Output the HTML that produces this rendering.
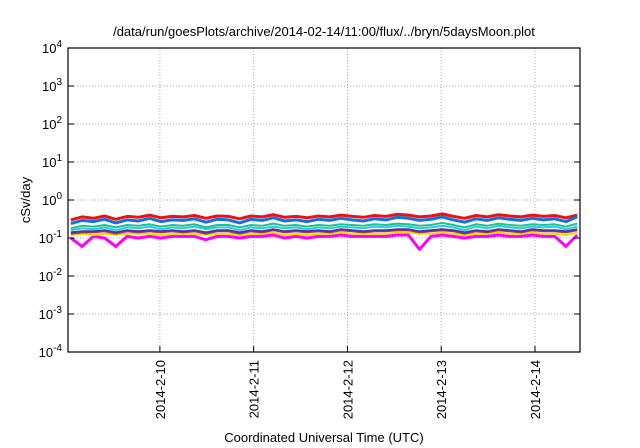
<!DOCTYPE html>
<html><head><meta charset="utf-8"><style>
body{margin:0;background:#fff;}
svg{display:block;font-family:"Liberation Sans",sans-serif;}
</style></head><body>
<svg id="chart" width="640" height="448">
<text x="324" y="36" font-size="13" text-anchor="middle">/data/run/goesPlots/archive/2014-02-14/11:00/flux/../bryn/5daysMoon.plot</text>
<g id="grid"></g><g id="series"></g><g id="axes"></g>
<text x="324" y="442" font-size="13" text-anchor="middle">Coordinated Universal Time (UTC)</text>
<text transform="translate(30,200) rotate(-90)" font-size="13" text-anchor="middle">cSv/day</text>
</svg>
<script>
const dayLabels=["2014-2-10","2014-2-11","2014-2-12","2014-2-13","2014-2-14"];
const dayTicks=[1,2,3,4,5];
const yExps=[-4,-3,-2,-1,0,1,2,3,4];
const startDay=0.05, stepDay=0.12;
const red=[0.30,0.36,0.33,0.38,0.31,0.37,0.35,0.40,0.34,0.37,0.36,0.39,0.33,0.38,0.37,0.32,0.38,0.36,0.41,0.35,0.37,0.34,0.38,0.36,0.40,0.37,0.35,0.39,0.37,0.42,0.40,0.36,0.38,0.43,0.37,0.33,0.39,0.36,0.41,0.38,0.36,0.40,0.37,0.39,0.34,0.40];
const blue=[0.24,0.29,0.27,0.31,0.25,0.30,0.28,0.33,0.27,0.30,0.29,0.32,0.26,0.31,0.30,0.25,0.31,0.29,0.34,0.28,0.30,0.27,0.31,0.29,0.33,0.30,0.28,0.32,0.30,0.35,0.33,0.29,0.31,0.36,0.30,0.26,0.32,0.29,0.34,0.31,0.29,0.33,0.30,0.32,0.27,0.36];
const teal=[0.18,0.21,0.20,0.22,0.19,0.22,0.21,0.23,0.20,0.22,0.21,0.23,0.19,0.22,0.22,0.19,0.22,0.21,0.24,0.21,0.22,0.20,0.22,0.21,0.23,0.22,0.21,0.23,0.22,0.24,0.23,0.21,0.22,0.25,0.22,0.19,0.23,0.21,0.24,0.22,0.21,0.23,0.22,0.23,0.20,0.24];
const cyan=[0.16,0.18,0.17,0.19,0.16,0.19,0.18,0.20,0.17,0.19,0.18,0.20,0.17,0.19,0.19,0.16,0.19,0.18,0.20,0.18,0.19,0.17,0.19,0.18,0.20,0.19,0.18,0.20,0.19,0.21,0.20,0.18,0.19,0.21,0.19,0.16,0.20,0.18,0.21,0.19,0.18,0.20,0.19,0.20,0.17,0.20];
const purple=[0.14,0.15,0.15,0.16,0.14,0.16,0.15,0.16,0.15,0.16,0.15,0.16,0.14,0.16,0.16,0.14,0.16,0.15,0.17,0.15,0.16,0.15,0.16,0.15,0.17,0.16,0.15,0.16,0.16,0.17,0.17,0.15,0.16,0.17,0.16,0.14,0.16,0.15,0.17,0.16,0.15,0.17,0.16,0.16,0.15,0.17];
const brown=[0.13,0.14,0.14,0.15,0.13,0.15,0.14,0.15,0.14,0.15,0.14,0.15,0.13,0.15,0.15,0.13,0.15,0.14,0.16,0.14,0.15,0.14,0.15,0.14,0.16,0.15,0.14,0.15,0.15,0.16,0.16,0.14,0.15,0.16,0.15,0.13,0.15,0.14,0.16,0.15,0.14,0.16,0.15,0.15,0.14,0.16];
const yellow=[0.12,0.13,0.12,0.13,0.12,0.13,0.13,0.13,0.12,0.13,0.13,0.13,0.12,0.13,0.13,0.12,0.13,0.13,0.14,0.12,0.13,0.12,0.13,0.13,0.14,0.13,0.13,0.13,0.13,0.14,0.14,0.13,0.13,0.14,0.13,0.12,0.13,0.13,0.14,0.13,0.13,0.14,0.13,0.13,0.12,0.14];
const magenta=[0.10,0.06,0.11,0.10,0.06,0.11,0.10,0.11,0.10,0.11,0.11,0.11,0.09,0.11,0.11,0.10,0.11,0.11,0.12,0.10,0.11,0.10,0.11,0.11,0.12,0.11,0.11,0.11,0.11,0.12,0.12,0.05,0.11,0.12,0.11,0.10,0.11,0.11,0.12,0.11,0.11,0.12,0.11,0.11,0.06,0.12];
const seriesList=[[magenta,"#ff00ff",3],[yellow,"#e8e000",2],[brown,"#a0403f",2],[purple,"#5a2db0",2],[cyan,"#20d0e0",2],[teal,"#20c090",2],[red,"#ee1111",3],[blue,"#1070e8",3]];
const seriesNames=["magenta","yellow","brown","purple","cyan","teal","red","blue"];
const L=68,R=580,T=48,B=352,d0=0.02,d1=5.48;
const NS="http://www.w3.org/2000/svg";
const xS=d=>L+(d-d0)/(d1-d0)*(R-L);
const yS=v=>B-(Math.log10(v)+4)/8*(B-T);
function mk(tag,attrs,parent){const e=document.createElementNS(NS,tag);for(const k in attrs)e.setAttribute(k,attrs[k]);parent.appendChild(e);return e;}
const grid=document.getElementById('grid'),axes=document.getElementById('axes'),ser=document.getElementById('series');
yExps.forEach(e=>{const y=B-(e+4)/8*(B-T);
 if(e>-4&&e<4){const g=mk('line',{x1:L,x2:R,y1:y,y2:y,stroke:'#aaa','stroke-dasharray':'1,2'},grid);
 
 }
 const t1=mk('line',{x1:L,x2:L+6,y1:y,y2:y,stroke:'#000'},axes);
 
 
 const t2=mk('line',{x1:R,x2:R-6,y1:y,y2:y,stroke:'#000'},axes);
 
 
 const tx=mk('text',{x:L-6,y:y+5,'font-size':13,'text-anchor':'end'},axes);
 
 
 tx.textContent='10';const s=mk('tspan',{dy:-6,'font-size':10},tx);s.textContent=String(e);
});
dayTicks.forEach((d,i)=>{const x=xS(d);
 const g=mk('line',{x1:x,x2:x,y1:T,y2:B,stroke:'#aaa','stroke-dasharray':'1,2'},grid);
 
 
 const t=mk('line',{x1:x,x2:x,y1:B,y2:B-6,stroke:'#000'},axes);
 
 
 const tx=mk('text',{transform:`translate(${x+5},${B+8}) rotate(-90)`,'font-size':13,'text-anchor':'end'},axes);
 
 
 tx.textContent=dayLabels[i];
});
const fr=mk('rect',{x:L,y:T,width:R-L,height:B-T,fill:'none',stroke:'#000','stroke-width':1.2},axes);


seriesList.forEach((s,k)=>{const pts=s[0].map((v,i)=>xS(startDay+i*stepDay).toFixed(1)+','+yS(v).toFixed(1)).join(' ');
 const p=mk('polyline',{points:pts,fill:'none',stroke:s[1],'stroke-width':s[2],'stroke-linejoin':'round'},ser);
 
 
});
</script>
</body></html>
